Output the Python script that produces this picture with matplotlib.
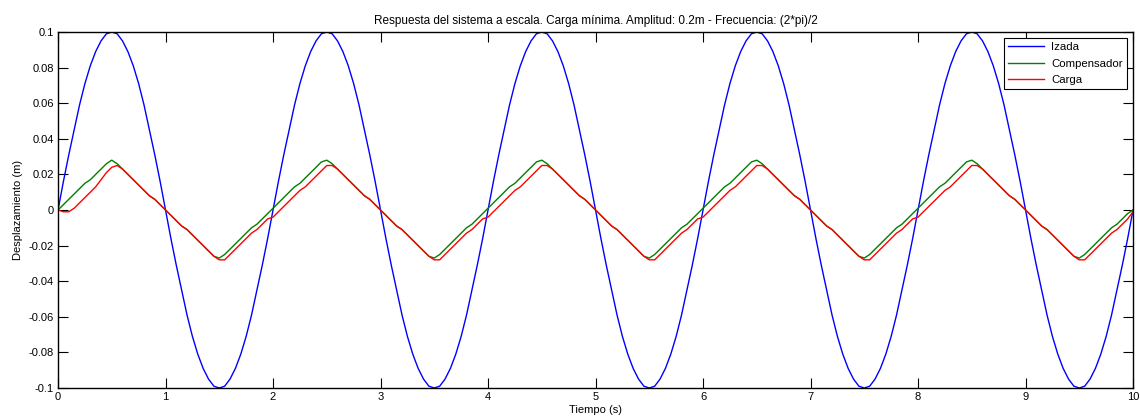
import numpy as np
from matplotlib import pyplot as plt

plt.rcParams['font.family'] = ['Liberation Sans', 'DejaVu Sans']

# time base (s), step 0.05
t = np.linspace(0, 10, 201)

# Izada (m)
izada = [
    0.000, 0.016, 0.031, 0.045, 0.059, 0.071, 0.081, 0.089, 0.095, 0.099,
    0.100, 0.099, 0.095, 0.089, 0.081, 0.071, 0.059, 0.045, 0.031, 0.016,
    0.000, -0.016, -0.031, -0.045, -0.059, -0.071, -0.081, -0.089, -0.095, -0.099,
    -0.100, -0.099, -0.095, -0.089, -0.081, -0.071, -0.059, -0.045, -0.031, -0.016,
    0.000, 0.016, 0.031, 0.045, 0.059, 0.071, 0.081, 0.089, 0.095, 0.099,
    0.100, 0.099, 0.095, 0.089, 0.081, 0.071, 0.059, 0.045, 0.031, 0.016,
    0.000, -0.016, -0.031, -0.045, -0.059, -0.071, -0.081, -0.089, -0.095, -0.099,
    -0.100, -0.099, -0.095, -0.089, -0.081, -0.071, -0.059, -0.045, -0.031, -0.016,
    0.000, 0.016, 0.031, 0.045, 0.059, 0.071, 0.081, 0.089, 0.095, 0.099,
    0.100, 0.099, 0.095, 0.089, 0.081, 0.071, 0.059, 0.045, 0.031, 0.016,
    0.000, -0.016, -0.031, -0.045, -0.059, -0.071, -0.081, -0.089, -0.095, -0.099,
    -0.100, -0.099, -0.095, -0.089, -0.081, -0.071, -0.059, -0.045, -0.031, -0.016,
    0.000, 0.016, 0.031, 0.045, 0.059, 0.071, 0.081, 0.089, 0.095, 0.099,
    0.100, 0.099, 0.095, 0.089, 0.081, 0.071, 0.059, 0.045, 0.031, 0.016,
    0.000, -0.016, -0.031, -0.045, -0.059, -0.071, -0.081, -0.089, -0.095, -0.099,
    -0.100, -0.099, -0.095, -0.089, -0.081, -0.071, -0.059, -0.045, -0.031, -0.016,
    0.000, 0.016, 0.031, 0.045, 0.059, 0.071, 0.081, 0.089, 0.095, 0.099,
    0.100, 0.099, 0.095, 0.089, 0.081, 0.071, 0.059, 0.045, 0.031, 0.016,
    0.000, -0.016, -0.031, -0.045, -0.059, -0.071, -0.081, -0.089, -0.095, -0.099,
    -0.100, -0.099, -0.095, -0.089, -0.081, -0.071, -0.059, -0.045, -0.031, -0.016,
    0.000,
]

# Compensador (m)
compensador = [
    0.000, 0.003, 0.006, 0.009, 0.012, 0.015, 0.017, 0.020, 0.023, 0.026,
    0.028, 0.026, 0.023, 0.020, 0.017, 0.014, 0.011, 0.008, 0.006, 0.003,
    0.000, -0.003, -0.006, -0.009, -0.011, -0.014, -0.017, -0.020, -0.023, -0.026,
    -0.027, -0.025, -0.022, -0.019, -0.016, -0.013, -0.010, -0.008, -0.005, -0.002,
    0.001, 0.004, 0.007, 0.010, 0.013, 0.015, 0.018, 0.021, 0.024, 0.027,
    0.028, 0.026, 0.023, 0.020, 0.017, 0.014, 0.011, 0.008, 0.006, 0.003,
    0.000, -0.003, -0.006, -0.009, -0.011, -0.014, -0.017, -0.020, -0.023, -0.026,
    -0.027, -0.025, -0.022, -0.019, -0.016, -0.013, -0.010, -0.008, -0.005, -0.002,
    0.001, 0.004, 0.007, 0.010, 0.013, 0.015, 0.018, 0.021, 0.024, 0.027,
    0.028, 0.026, 0.023, 0.020, 0.017, 0.014, 0.011, 0.008, 0.006, 0.003,
    0.000, -0.003, -0.006, -0.009, -0.011, -0.014, -0.017, -0.020, -0.023, -0.026,
    -0.027, -0.025, -0.022, -0.019, -0.016, -0.013, -0.010, -0.008, -0.005, -0.002,
    0.001, 0.004, 0.007, 0.010, 0.013, 0.015, 0.018, 0.021, 0.024, 0.027,
    0.028, 0.026, 0.023, 0.020, 0.017, 0.014, 0.011, 0.008, 0.006, 0.003,
    0.000, -0.003, -0.006, -0.009, -0.011, -0.014, -0.017, -0.020, -0.023, -0.026,
    -0.027, -0.025, -0.022, -0.019, -0.016, -0.013, -0.010, -0.008, -0.005, -0.002,
    0.001, 0.004, 0.007, 0.010, 0.013, 0.015, 0.018, 0.021, 0.024, 0.027,
    0.028, 0.026, 0.023, 0.020, 0.017, 0.014, 0.011, 0.008, 0.006, 0.003,
    0.000, -0.003, -0.006, -0.009, -0.011, -0.014, -0.017, -0.020, -0.023, -0.026,
    -0.027, -0.025, -0.022, -0.019, -0.016, -0.013, -0.010, -0.008, -0.005, -0.002,
    0.000,
]

# Carga (m)
carga = [
    0.000, -0.001, -0.001, 0.001, 0.004, 0.007, 0.010, 0.013, 0.017, 0.021,
    0.024, 0.025, 0.023, 0.020, 0.017, 0.014, 0.011, 0.008, 0.006, 0.003,
    0.000, -0.003, -0.006, -0.009, -0.011, -0.014, -0.017, -0.020, -0.023, -0.026,
    -0.028, -0.028, -0.025, -0.022, -0.019, -0.016, -0.013, -0.011, -0.008, -0.005,
    -0.004, -0.001, 0.002, 0.005, 0.008, 0.011, 0.013, 0.016, 0.019, 0.022,
    0.025, 0.025, 0.023, 0.020, 0.017, 0.014, 0.011, 0.008, 0.006, 0.003,
    0.000, -0.003, -0.006, -0.009, -0.011, -0.014, -0.017, -0.020, -0.023, -0.026,
    -0.028, -0.028, -0.025, -0.022, -0.019, -0.016, -0.013, -0.011, -0.008, -0.005,
    -0.004, -0.001, 0.002, 0.005, 0.008, 0.011, 0.013, 0.016, 0.019, 0.022,
    0.025, 0.025, 0.023, 0.020, 0.017, 0.014, 0.011, 0.008, 0.006, 0.003,
    0.000, -0.003, -0.006, -0.009, -0.011, -0.014, -0.017, -0.020, -0.023, -0.026,
    -0.028, -0.028, -0.025, -0.022, -0.019, -0.016, -0.013, -0.011, -0.008, -0.005,
    -0.004, -0.001, 0.002, 0.005, 0.008, 0.011, 0.013, 0.016, 0.019, 0.022,
    0.025, 0.025, 0.023, 0.020, 0.017, 0.014, 0.011, 0.008, 0.006, 0.003,
    0.000, -0.003, -0.006, -0.009, -0.011, -0.014, -0.017, -0.020, -0.023, -0.026,
    -0.028, -0.028, -0.025, -0.022, -0.019, -0.016, -0.013, -0.011, -0.008, -0.005,
    -0.004, -0.001, 0.002, 0.005, 0.008, 0.011, 0.013, 0.016, 0.019, 0.022,
    0.025, 0.025, 0.023, 0.020, 0.017, 0.014, 0.011, 0.008, 0.006, 0.003,
    0.000, -0.003, -0.006, -0.009, -0.011, -0.014, -0.017, -0.020, -0.023, -0.026,
    -0.028, -0.028, -0.025, -0.022, -0.019, -0.016, -0.013, -0.011, -0.008, -0.005,
    -0.001,
]

x_ticks = np.arange(0, 11, 1)
y_ticks = np.round(np.arange(-0.1, 0.1001, 0.02), 2)
y_tick_labels = ['-0.1', '-0.08', '-0.06', '-0.04', '-0.02', '0',
                 '0.02', '0.04', '0.06', '0.08', '0.1']

f = plt.figure(figsize=(11.4, 4.18), dpi=100)
ax = f.add_axes([0.0509, 0.0718, 0.943, 0.8516])

ax.plot(t, izada, color='#0000ff', lw=1.0, label='Izada')
ax.plot(t, compensador, color='#008000', lw=1.0, label='Compensador')
ax.plot(t, carga, color='#ff0000', lw=1.0, label='Carga')

ax.set_xlim(0, 10)
ax.set_ylim(-0.1, 0.1)
ax.set_xticks(x_ticks)
ax.set_yticks(y_ticks)
ax.set_yticklabels(y_tick_labels)
ax.tick_params(direction='in', top=True, right=True, length=7, width=0.8,
               labelsize=8, pad=3)
for s in ax.spines.values():
    s.set_linewidth(1.0)

ax.set_title('Respuesta del sistema a escala. Carga mínima. Amplitud: 0.2m - '
             'Frecuencia: (2*pi)/2', fontsize=8.5, pad=6)
ax.set_xlabel('Tiempo (s)', fontsize=8, labelpad=2)
ax.set_ylabel('Desplazamiento (m)', fontsize=8, labelpad=4)

leg = ax.legend(loc='upper right', fontsize=8.2, frameon=True, fancybox=False,
                edgecolor='black', framealpha=1, handlelength=3.2,
                labelspacing=0.55, borderaxespad=0.55, borderpad=0.35,
                handletextpad=0.6)
leg.get_frame().set_linewidth(0.8)

f.savefig('out.png', dpi=100)
plt.close(f)
